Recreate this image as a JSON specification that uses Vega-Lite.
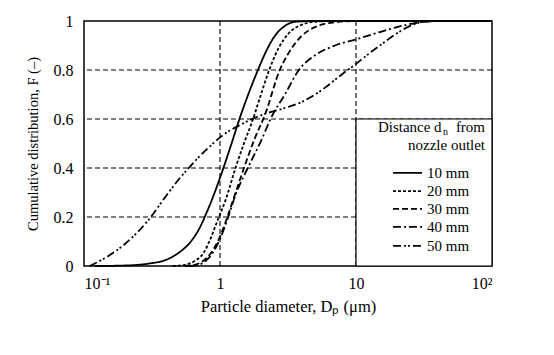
{
  "$schema": "https://vega.github.io/schema/vega-lite/v6.json",
  "width": 408,
  "height": 245,
  "autosize": {"type": "none"},
  "padding": {"left": 84, "top": 21, "right": 62, "bottom": 89},
  "background": "white",
  "config": {
    "view": {"stroke": "black", "strokeWidth": 1.5},
    "font": "Liberation Serif",
    "axis": {"labelFont": "Liberation Serif", "titleFont": "Liberation Serif", "labelColor": "black", "titleColor": "black", "titleFontWeight": "normal", "grid": false, "domain": false, "ticks": false}
  },
  "datasets": {
    "curves": [
      {"series": "10 mm", "D": 0.12, "F": 0},
      {"series": "10 mm", "D": 0.2, "F": 0.002},
      {"series": "10 mm", "D": 0.3, "F": 0.01},
      {"series": "10 mm", "D": 0.4, "F": 0.025},
      {"series": "10 mm", "D": 0.5, "F": 0.055},
      {"series": "10 mm", "D": 0.6, "F": 0.095},
      {"series": "10 mm", "D": 0.7, "F": 0.15},
      {"series": "10 mm", "D": 0.8, "F": 0.22},
      {"series": "10 mm", "D": 0.9, "F": 0.29},
      {"series": "10 mm", "D": 1.0, "F": 0.36},
      {"series": "10 mm", "D": 1.2, "F": 0.49},
      {"series": "10 mm", "D": 1.4, "F": 0.605},
      {"series": "10 mm", "D": 1.6, "F": 0.695},
      {"series": "10 mm", "D": 1.9, "F": 0.8},
      {"series": "10 mm", "D": 2.2, "F": 0.88},
      {"series": "10 mm", "D": 2.5, "F": 0.935},
      {"series": "10 mm", "D": 3.0, "F": 0.98},
      {"series": "10 mm", "D": 3.6, "F": 0.997},
      {"series": "10 mm", "D": 5, "F": 1},
      {"series": "10 mm", "D": 100, "F": 1},
      {"series": "20 mm", "D": 0.45, "F": 0},
      {"series": "20 mm", "D": 0.55, "F": 0.005},
      {"series": "20 mm", "D": 0.65, "F": 0.02},
      {"series": "20 mm", "D": 0.75, "F": 0.05},
      {"series": "20 mm", "D": 0.85, "F": 0.11},
      {"series": "20 mm", "D": 0.95, "F": 0.18},
      {"series": "20 mm", "D": 1.1, "F": 0.27},
      {"series": "20 mm", "D": 1.3, "F": 0.4},
      {"series": "20 mm", "D": 1.5, "F": 0.5},
      {"series": "20 mm", "D": 1.75, "F": 0.6},
      {"series": "20 mm", "D": 2.0, "F": 0.7},
      {"series": "20 mm", "D": 2.3, "F": 0.8},
      {"series": "20 mm", "D": 2.7, "F": 0.89},
      {"series": "20 mm", "D": 3.2, "F": 0.95},
      {"series": "20 mm", "D": 4, "F": 0.985},
      {"series": "20 mm", "D": 5, "F": 0.997},
      {"series": "20 mm", "D": 7, "F": 1},
      {"series": "20 mm", "D": 100, "F": 1},
      {"series": "30 mm", "D": 0.55, "F": 0},
      {"series": "30 mm", "D": 0.65, "F": 0.005},
      {"series": "30 mm", "D": 0.75, "F": 0.02},
      {"series": "30 mm", "D": 0.85, "F": 0.05},
      {"series": "30 mm", "D": 1.0, "F": 0.12},
      {"series": "30 mm", "D": 1.1, "F": 0.18},
      {"series": "30 mm", "D": 1.25, "F": 0.27},
      {"series": "30 mm", "D": 1.5, "F": 0.4},
      {"series": "30 mm", "D": 1.8, "F": 0.52},
      {"series": "30 mm", "D": 2.15, "F": 0.62},
      {"series": "30 mm", "D": 2.75, "F": 0.8},
      {"series": "30 mm", "D": 3.2, "F": 0.87},
      {"series": "30 mm", "D": 4, "F": 0.94},
      {"series": "30 mm", "D": 5, "F": 0.975},
      {"series": "30 mm", "D": 7, "F": 0.995},
      {"series": "30 mm", "D": 10, "F": 1},
      {"series": "30 mm", "D": 100, "F": 1},
      {"series": "40 mm", "D": 0.6, "F": 0},
      {"series": "40 mm", "D": 0.7, "F": 0.005},
      {"series": "40 mm", "D": 0.8, "F": 0.025},
      {"series": "40 mm", "D": 0.9, "F": 0.06},
      {"series": "40 mm", "D": 1.0, "F": 0.11},
      {"series": "40 mm", "D": 1.15, "F": 0.2},
      {"series": "40 mm", "D": 1.3, "F": 0.29},
      {"series": "40 mm", "D": 1.6, "F": 0.4},
      {"series": "40 mm", "D": 2.0, "F": 0.51},
      {"series": "40 mm", "D": 2.4, "F": 0.61},
      {"series": "40 mm", "D": 3.0, "F": 0.7},
      {"series": "40 mm", "D": 3.8, "F": 0.8},
      {"series": "40 mm", "D": 5, "F": 0.86},
      {"series": "40 mm", "D": 7, "F": 0.9},
      {"series": "40 mm", "D": 10, "F": 0.925},
      {"series": "40 mm", "D": 15, "F": 0.955},
      {"series": "40 mm", "D": 20, "F": 0.975},
      {"series": "40 mm", "D": 30, "F": 0.995},
      {"series": "40 mm", "D": 40, "F": 1},
      {"series": "40 mm", "D": 100, "F": 1},
      {"series": "50 mm", "D": 0.11, "F": 0},
      {"series": "50 mm", "D": 0.15, "F": 0.04},
      {"series": "50 mm", "D": 0.2, "F": 0.09},
      {"series": "50 mm", "D": 0.3, "F": 0.19},
      {"series": "50 mm", "D": 0.4, "F": 0.285},
      {"series": "50 mm", "D": 0.5, "F": 0.355},
      {"series": "50 mm", "D": 0.6, "F": 0.405},
      {"series": "50 mm", "D": 0.7, "F": 0.445},
      {"series": "50 mm", "D": 0.85, "F": 0.49},
      {"series": "50 mm", "D": 1.0, "F": 0.525},
      {"series": "50 mm", "D": 1.4, "F": 0.575},
      {"series": "50 mm", "D": 2.0, "F": 0.615},
      {"series": "50 mm", "D": 3.0, "F": 0.645},
      {"series": "50 mm", "D": 4.0, "F": 0.67},
      {"series": "50 mm", "D": 5.0, "F": 0.7},
      {"series": "50 mm", "D": 6.0, "F": 0.73},
      {"series": "50 mm", "D": 7.0, "F": 0.76},
      {"series": "50 mm", "D": 8.0, "F": 0.785},
      {"series": "50 mm", "D": 10, "F": 0.825},
      {"series": "50 mm", "D": 12, "F": 0.86},
      {"series": "50 mm", "D": 15, "F": 0.9},
      {"series": "50 mm", "D": 20, "F": 0.95},
      {"series": "50 mm", "D": 25, "F": 0.98},
      {"series": "50 mm", "D": 30, "F": 0.995},
      {"series": "50 mm", "D": 40, "F": 1},
      {"series": "50 mm", "D": 100, "F": 1}
    ],
    "vgrid": [{"D": 1}, {"D": 10}],
    "hgrid": [{"F": 0.2}, {"F": 0.4}, {"F": 0.6}, {"F": 0.8}],
    "legendbox": [{"D1": 10, "D2": 100, "F1": 0, "F2": 0.6}],
    "legendtitle": [
      {"text": "Distance", "D": 14.5, "F": 0.5449, "size": 15, "style": "normal", "align": "left"},
      {"text": "d", "D": 37.5, "F": 0.5449, "size": 15, "style": "italic", "align": "left"},
      {"text": "n", "D": 43.6, "F": 0.5347, "size": 10, "style": "normal", "align": "left"},
      {"text": "from", "D": 88.9, "F": 0.5449, "size": 15, "style": "normal", "align": "right"},
      {"text": "nozzle outlet", "D": 88.9, "F": 0.4755, "size": 15, "style": "normal", "align": "right"}
    ],
    "legenditems": [
      {"series": "10 mm", "D1": 18.7, "D2": 30.6, "Dt": 33.3, "F": 0.38},
      {"series": "20 mm", "D1": 18.7, "D2": 30.6, "Dt": 33.3, "F": 0.306},
      {"series": "30 mm", "D1": 18.7, "D2": 30.6, "Dt": 33.3, "F": 0.233},
      {"series": "40 mm", "D1": 18.7, "D2": 30.6, "Dt": 33.3, "F": 0.16},
      {"series": "50 mm", "D1": 18.7, "D2": 30.6, "Dt": 33.3, "F": 0.082}
    ]
  },
  "layer": [
    {
      "data": {"name": "vgrid"},
      "mark": {"type": "rule", "color": "black", "strokeWidth": 1.1, "strokeDash": [5, 3]},
      "encoding": {
        "x": {"field": "D", "type": "quantitative", "scale": {"type": "log", "domain": [0.1, 100]},
          "axis": {"values": [0.1, 1, 10, 100], "labelExpr": "datum.value < 0.5 ? '10⁻¹' : datum.value > 50 ? '10²' : format(datum.value, 'd')", "labelFontSize": 16, "labelPadding": 9, "title": "Particle diameter, Dₚ (μm)", "titleFontSize": 16.5, "titlePadding": 7}}
      }
    },
    {
      "data": {"name": "hgrid"},
      "mark": {"type": "rule", "color": "black", "strokeWidth": 1.1, "strokeDash": [5, 3]},
      "encoding": {
        "y": {"field": "F", "type": "quantitative", "scale": {"domain": [0, 1]},
          "axis": {"values": [0, 0.2, 0.4, 0.6, 0.8, 1], "labelExpr": "datum.value == 0 ? '0' : datum.value == 1 ? '1' : format(datum.value, '.1f')", "labelFontSize": 16, "labelPadding": 11, "title": "Cumulative distribution, F (–)", "titleFontSize": 14.5, "titlePadding": 13}}
      }
    },
    {
      "data": {"name": "legendbox"},
      "mark": {"type": "rect", "fill": "white", "stroke": "black", "strokeWidth": 1.2},
      "encoding": {
        "x": {"field": "D1", "type": "quantitative"},
        "x2": {"field": "D2"},
        "y": {"field": "F1", "type": "quantitative"},
        "y2": {"field": "F2"}
      }
    },
    {
      "data": {"name": "curves"},
      "mark": {"type": "line", "color": "black", "strokeWidth": 1.8, "interpolate": "monotone"},
      "encoding": {
        "x": {"field": "D", "type": "quantitative"},
        "y": {"field": "F", "type": "quantitative"},
        "detail": {"field": "series"},
        "strokeDash": {"field": "series", "type": "nominal", "legend": null,
          "scale": {"domain": ["10 mm", "20 mm", "30 mm", "40 mm", "50 mm"], "range": [[1, 0], [3, 2], [6, 3], [8, 3, 2, 3], [8, 3, 2, 2, 2, 3]]}}
      }
    },
    {
      "data": {"name": "legenditems"},
      "mark": {"type": "rule", "color": "black", "strokeWidth": 1.8},
      "encoding": {
        "x": {"field": "D1", "type": "quantitative"},
        "x2": {"field": "D2"},
        "y": {"field": "F", "type": "quantitative"},
        "strokeDash": {"field": "series", "type": "nominal", "legend": null}
      }
    },
    {
      "data": {"name": "legenditems"},
      "mark": {"type": "text", "align": "left", "baseline": "middle", "fontSize": 15, "font": "Liberation Serif", "color": "black"},
      "encoding": {
        "x": {"field": "Dt", "type": "quantitative"},
        "y": {"field": "F", "type": "quantitative"},
        "text": {"field": "series"}
      }
    },
    {
      "data": {"name": "legendtitle"},
      "transform": [{"filter": "datum.align == 'left'"}],
      "mark": {"type": "text", "align": "left", "baseline": "alphabetic", "font": "Liberation Serif", "color": "black"},
      "encoding": {
        "x": {"field": "D", "type": "quantitative"},
        "y": {"field": "F", "type": "quantitative"},
        "text": {"field": "text"},
        "size": {"field": "size", "type": "quantitative", "scale": null},
        "fontStyle": {"field": "style", "type": "nominal", "scale": null}
      }
    },
    {
      "data": {"name": "legendtitle"},
      "transform": [{"filter": "datum.align == 'right'"}],
      "mark": {"type": "text", "align": "right", "baseline": "alphabetic", "font": "Liberation Serif", "color": "black"},
      "encoding": {
        "x": {"field": "D", "type": "quantitative"},
        "y": {"field": "F", "type": "quantitative"},
        "text": {"field": "text"},
        "size": {"field": "size", "type": "quantitative", "scale": null}
      }
    }
  ]
}
